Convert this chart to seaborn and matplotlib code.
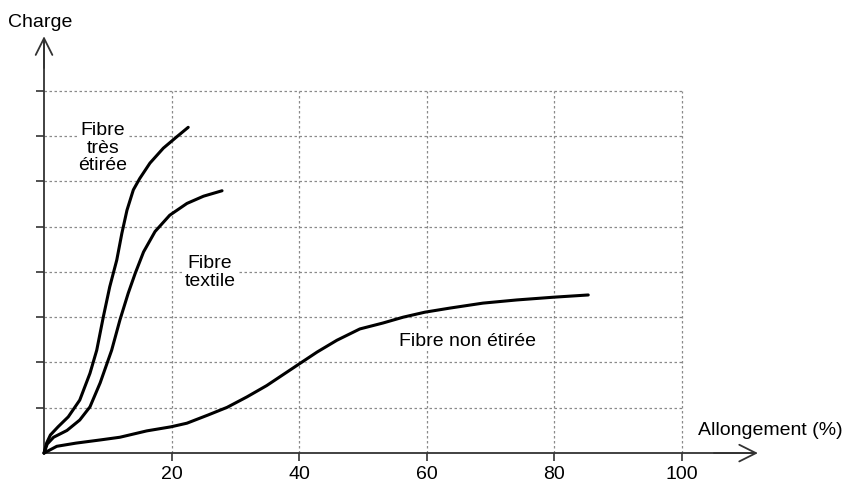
import matplotlib
matplotlib.use("Agg")
import pandas as pd
import matplotlib.pyplot as plt
import seaborn as sns

# Courbes charge / allongement (1 unité de charge = 1 case)
tres_x = [0, 0.4, 1.0, 2.2, 3.8, 5.6, 7.2, 8.26, 9.3, 10.3, 11.4, 12.2, 13.0, 14.0,
          15.0, 16.6, 18.7, 20.8, 22.6]
tres_y = [0, 0.22, 0.4, 0.58, 0.8, 1.17, 1.76, 2.27, 3.01, 3.67, 4.26, 4.85, 5.36, 5.81,
          6.06, 6.4, 6.73, 6.98, 7.19]

textile_x = [0, 0.5, 1.5, 3.6, 5.6, 7.2, 8.8, 10.6, 11.9, 13.2, 14.3, 15.6, 17.4,
             19.7, 22.4, 25.0, 27.9]
textile_y = [0, 0.2, 0.35, 0.5, 0.73, 1.02, 1.55, 2.27, 2.94, 3.53, 3.97, 4.44, 4.89,
             5.25, 5.51, 5.67, 5.79]

non_x = [0, 2.0, 5.0, 8.8, 11.9, 16.1, 19.9, 22.4, 25.7, 28.7, 31.8, 34.9, 39.7,
         42.8, 45.9, 49.5, 53.1, 56.3, 59.7, 63.6, 68.8, 74.1, 79.8, 85.3]
non_y = [0, 0.15, 0.22, 0.29, 0.35, 0.49, 0.58, 0.66, 0.84, 1.01, 1.24, 1.49, 1.94,
         2.23, 2.49, 2.74, 2.87, 3.0, 3.11, 3.2, 3.31, 3.38, 3.44, 3.49]

x_ticks = [20, 40, 60, 80, 100]
y_ticks = [1, 2, 3, 4, 5, 6, 7, 8]

curves = pd.concat([
    pd.DataFrame({"x": tres_x, "y": tres_y, "fibre": "très étirée"}),
    pd.DataFrame({"x": textile_x, "y": textile_y, "fibre": "textile"}),
    pd.DataFrame({"x": non_x, "y": non_y, "fibre": "non étirée"}),
])

sns.set_style("white")
plt.rcParams["font.family"] = ["Liberation Sans", "DejaVu Sans"]

fig = plt.figure(figsize=(8.46, 4.83), dpi=100)
ax = fig.add_axes([0, 0, 1, 1])
ax.set_xlim(-6.9, 125.7)
ax.set_ylim(-0.66, 10.0)

# grille pointillée
ax.hlines(y_ticks, 0, 100, colors="#8a8a8a", linestyles=(0, (2, 2)), lw=0.9, zorder=1)
ax.vlines(x_ticks, 0, 8, colors="#8a8a8a", linestyles=(0, (2, 2)), lw=0.9, zorder=1)

sns.lineplot(data=curves, x="x", y="y", units="fibre", estimator=None, sort=False,
             color="black", linewidth=2.2, ax=ax, zorder=3,
             solid_joinstyle="round", solid_capstyle="round")

# axes avec flèches
for s in ["top", "right"]:
    ax.spines[s].set_visible(False)
ax.spines["left"].set_position(("data", 0))
ax.spines["bottom"].set_position(("data", 0))
ax.spines["left"].set_bounds(0, 9.1)
ax.spines["bottom"].set_bounds(0, 111.5)
for s in ["left", "bottom"]:
    ax.spines[s].set_color("#333333")
    ax.spines[s].set_linewidth(1.3)
arrow = dict(arrowstyle="->,head_length=0.6,head_width=0.3", color="#333333",
             lw=1.3, mutation_scale=20, shrinkA=0, shrinkB=0)
ax.annotate("", xy=(111.9, 0), xytext=(105, 0), arrowprops=arrow)
ax.annotate("", xy=(0, 9.2), xytext=(0, 8.5), arrowprops=arrow)

ax.set_xticks(x_ticks)
ax.set_xticklabels([str(v) for v in x_ticks])
ax.set_yticks(y_ticks)
ax.set_yticklabels([])
ax.tick_params(axis="x", direction="out", length=6, width=1.2, color="#333333",
               labelsize=14, labelcolor="black", pad=3, bottom=True)
ax.tick_params(axis="y", direction="out", length=6, width=1.2, color="#333333",
               left=True)
ax.set_xlabel("")
ax.set_ylabel("")

box = dict(facecolor="white", edgecolor="none", pad=1)
ax.text(-0.6, 9.5, "Charge", fontsize=14, color="black", ha="center", va="center")
ax.text(102.5, 0.49, "Allongement (%)", fontsize=14, color="black", ha="left", va="center")
ax.text(9.25, 6.73, "Fibre\ntrès\nétirée", fontsize=14, color="black", ha="center",
        va="center", linespacing=1.05, bbox=box, zorder=2)
ax.text(26.0, 3.99, "Fibre\ntextile", fontsize=14, color="black", ha="center",
        va="center", linespacing=1.05, bbox=box, zorder=2)
ax.text(66.4, 2.47, "Fibre non étirée", fontsize=14, color="black", ha="center",
        va="center", bbox=box, zorder=2)

fig.savefig("out.png", dpi=100)
